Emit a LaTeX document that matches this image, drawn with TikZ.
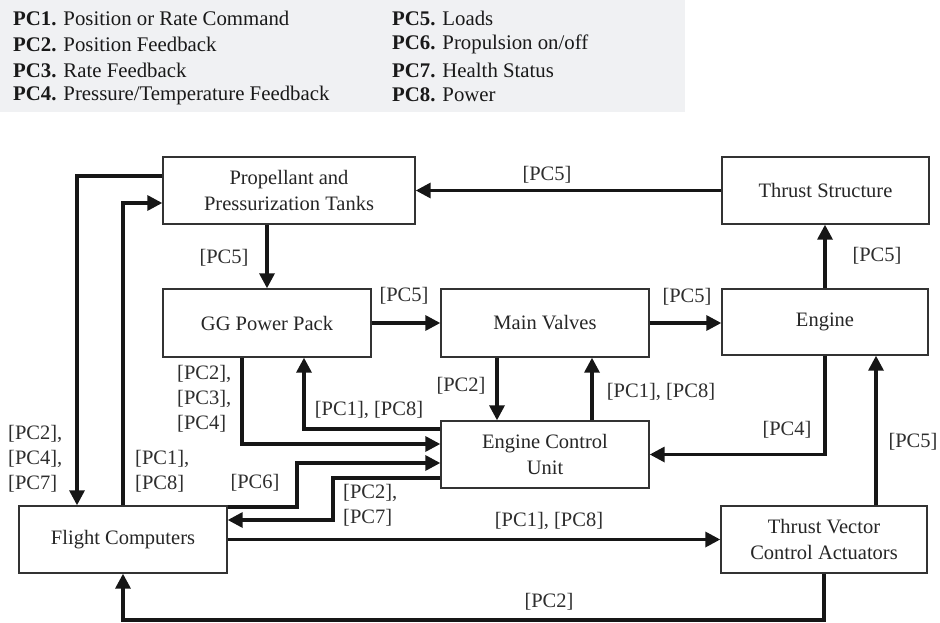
\documentclass[tikz,border=0pt]{standalone}
\usepackage{fontspec}
\setmainfont{Liberation Serif}
\usetikzlibrary{arrows.meta,positioning}
\definecolor{legendbg}{HTML}{F0F1F3}
\definecolor{linecol}{HTML}{161616}
\definecolor{boxcol}{HTML}{333333}
\tikzset{
  blk/.style={draw=boxcol, line width=1.4pt, fill=white, inner sep=0pt, align=center,
              font=\fontsize{20.5}{26}\selectfont, text=black!85},
  arr/.style={draw=linecol, line width=3.3pt,
              -{Triangle[length=15pt,width=15pt]}},
  lbl/.style={font=\fontsize{20.5}{25}\selectfont, text=black!82, inner sep=0pt, align=left},
  leg/.style={font=\fontsize{20.8}{24}\selectfont, text=black!90, inner sep=0pt, anchor=west}
}
\begin{document}
\begin{tikzpicture}[x=1pt,y=-1pt]
\useasboundingbox (0,0) rectangle (940,623);

% legend panel
\fill[legendbg] (0,0) rectangle (685,112);
\node[leg] (l1) at (13,18) {\textbf{PC1.} Position or Rate Command};
\node[leg] (l2) at (13,44) {\textbf{PC2.} Position Feedback};
\node[leg] (l3) at (13,70) {\textbf{PC3.} Rate Feedback};
\node[leg] (l4) at (13,95) {\textbf{PC4.} Pressure/Temperature Feedback};
\node[leg] (l5) at (392,18) {\textbf{PC5.} Loads};
\node[leg] (l6) at (392,44) {\textbf{PC6.} Propulsion on/off};
\node[leg] (l7) at (392,70) {\textbf{PC7.} Health Status};
\node[leg] (l8) at (392,95) {\textbf{PC8.} Power};

% blocks
\node[blk, minimum width=252pt, minimum height=67pt] (tanks) at (289,190.5) {Propellant and\\Pressurization Tanks};
\node[blk, minimum width=207pt, minimum height=67pt] (thrust) at (825.5,190.5) {Thrust Structure};
\node[blk, minimum width=208pt, minimum height=68pt] (gg) at (267,323) {GG Power Pack};
\node[blk, minimum width=208pt, minimum height=68pt] (mv) at (545,323) {Main Valves};
\node[blk, minimum width=206pt, minimum height=66pt] (engine) at (825,322) {Engine};
\node[blk, minimum width=208pt, minimum height=67pt] (ecu) at (545,454.5) {Engine Control\\Unit};
\node[blk, minimum width=208pt, minimum height=67pt] (fc) at (123,539.5) {Flight Computers};
\node[blk, minimum width=206pt, minimum height=67pt] (tvca) at (824,539.5) {Thrust Vector\\Control Actuators};

% loads path
\draw[arr] (thrust.west) -- (tanks.east);
\node[lbl] (t1) at (547,175) {[PC5]};
\draw[arr] (gg.north |- tanks.south) -- (gg.north);
\node[lbl] (t2) at (224,258) {[PC5]};
\draw[arr] (gg.east) -- (mv.west |- gg.east);
\node[lbl] (t3) at (404,296) {[PC5]};
\draw[arr] (mv.east) -- (engine.west |- mv.east);
\node[lbl] (t4) at (687,297) {[PC5]};
\draw[arr] (engine.north) -- (engine.north |- thrust.south);
\node[lbl] (t5) at (877,256) {[PC5]};

% main valves <-> engine control unit
\coordinate (mvA) at (497,0);
\coordinate (mvB) at (592,0);
\draw[arr] (mv.south -| mvA) -- (ecu.north -| mvA);
\node[lbl] (t6) at (461,386) {[PC2]};
\draw[arr] (ecu.north -| mvB) -- (mv.south -| mvB);
\node[lbl] (t7) at (661,392) {[PC1], [PC8]};

% GG power pack <-> engine control unit
\coordinate (ggUp) at (304,429);
\draw[arr] (ecu.west |- ggUp) -- (ggUp) -- (ggUp |- gg.south);
\node[lbl] (t8) at (369,410) {[PC1], [PC8]};
\coordinate (ggDn) at (242,444);
\draw[arr] (ggDn |- gg.south) -- (ggDn) -- (ecu.west |- ggDn);
\node[lbl, anchor=north west] (t9) at (177,365) {{[PC2],}\\{[PC3],}\\{[PC4]}};

% flight computers <-> engine control unit
\coordinate (p6a) at (297,507);
\coordinate (p6b) at (297,463);
\draw[arr] (fc.east |- p6a) -- (p6a) -- (p6b) -- (ecu.west |- p6b);
\node[lbl] (t10) at (255,483) {[PC6]};
\coordinate (p7a) at (333,478);
\coordinate (p7b) at (333,520);
\draw[arr] (ecu.west |- p7a) -- (p7a) -- (p7b) -- (fc.east |- p7b);
\node[lbl, anchor=north west] (t11) at (343,484) {{[PC2],}\\{[PC7]}};

% flight computers <-> tanks
\coordinate (q1) at (123,203);
\draw[arr] (fc.north) -- (q1) -- (tanks.west |- q1);
\node[lbl, anchor=north west] (t12) at (135,450) {{[PC1],}\\{[PC8]}};
\coordinate (q2) at (77,176);
\draw[arr] (tanks.west |- q2) -- (q2) -- (q2 |- fc.north);
\node[lbl, anchor=north west] (t13) at (8,425) {{[PC2],}\\{[PC4],}\\{[PC7]}};

% flight computers <-> thrust vector control actuators
\draw[arr] (fc.east) -- (tvca.west);
\node[lbl] (t14) at (549,521) {[PC1], [PC8]};
\coordinate (b1) at (824,620);
\draw[arr] (tvca.south) -- (b1) -- (b1 -| fc.south) -- (fc.south);
\node[lbl] (t15) at (549,602) {[PC2]};

% thrust vector control actuators -> engine, engine -> ECU
\coordinate (r1) at (876,0);
\draw[arr] (tvca.north -| r1) -- (engine.south -| r1);
\node[lbl] (t16) at (913,442) {[PC5]};
\draw[arr] (engine.south) |- (ecu.east);
\node[lbl] (t17) at (787,430) {[PC4]};
\end{tikzpicture}
\end{document}
